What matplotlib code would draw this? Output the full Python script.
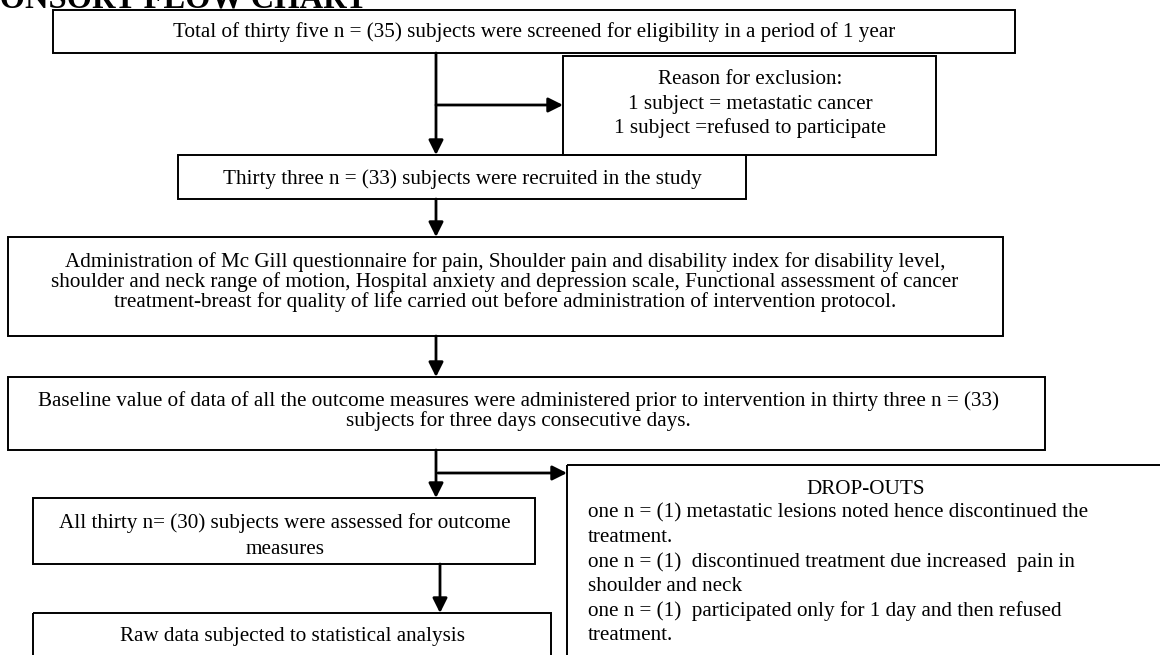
import matplotlib.pyplot as plt
from matplotlib.patches import Rectangle

# texts of the flow chart
title = "CONSORT FLOW CHART"
screened = "Total of thirty five n = (35) subjects were screened for eligibility in a period of 1 year"
exclusion = ["Reason for exclusion:",
             "1 subject = metastatic cancer",
             "1 subject =refused to participate"]
recruited = "Thirty three n = (33) subjects were recruited in the study"
admin = ["Administration of Mc Gill questionnaire for pain, Shoulder pain and disability index for disability level,",
         "shoulder and neck range of motion, Hospital anxiety and depression scale, Functional assessment of cancer",
         "treatment-breast for quality of life carried out before administration of intervention protocol."]
baseline = ["Baseline value of data of all the outcome measures were administered prior to intervention in thirty three n = (33)",
            "subjects for three days consecutive days."]
dropout_title = "DROP-OUTS"
dropouts = ["one n = (1) metastatic lesions noted hence discontinued the",
            "treatment.",
            "one n = (1)  discontinued treatment due increased  pain in",
            "shoulder and neck",
            "one n = (1)  participated only for 1 day and then refused",
            "treatment."]
assessed = ["All thirty n= (30) subjects were assessed for outcome",
            "measures"]
raw = "Raw data subjected to statistical analysis"

plt.rcParams['font.family'] = ['Liberation Serif', 'DejaVu Serif']
FS = 15.2

W, H = 1160, 655
fig = plt.figure(figsize=(W / 100, H / 100), dpi=100)
ax = fig.add_axes([0, 0, 1, 1])
ax.set_xlim(0, W)
ax.set_ylim(H, 0)
ax.axis('off')


def box(x0, y0, x1, y1):
    ax.add_patch(Rectangle((x0, y0), x1 - x0, y1 - y0, fill=False,
                           edgecolor='black', lw=1.4, clip_on=False))


def lines_centered(xc, ys, texts):
    for y, t in zip(ys, texts):
        ax.text(xc, y, t, ha='center', va='center', fontsize=FS)


def arrow(x0, y0, x1, y1, lw=2.0):
    ax.annotate("", xy=(x1, y1), xytext=(x0, y0),
                arrowprops=dict(arrowstyle='-|>', lw=lw, color='black',
                                mutation_scale=22, shrinkA=0, shrinkB=0))


# title, cut at the top/left like the original
ax.text(-24, 7, title, fontsize=23.5, fontweight='bold', ha='left', va='baseline')

# screened
box(53, 10, 1015, 53)
lines_centered(534, [32], [screened])
arrow(436, 53, 436, 155)
arrow(436, 105, 563, 105)

# exclusion
box(563, 56, 936, 155)
lines_centered(750, [80, 104, 128], exclusion)

# recruited
box(178, 155, 746, 199)
lines_centered(462, [179], [recruited])
arrow(436, 199, 436, 237)

# administration of questionnaires
box(8, 237, 1003, 336)
lines_centered(505, [262, 282, 302], admin)
arrow(436, 336, 436, 377)

# baseline
box(8, 377, 1045, 450)
lines_centered(518, [401, 421], baseline)
arrow(436, 450, 436, 498)
arrow(438, 473, 567, 473)

# drop-outs
box(567, 465, 1170, 670)
ax.text(866, 489, dropout_title, ha='center', va='center', fontsize=FS)
for i, t in enumerate(dropouts):
    ax.text(588, 513 + i * 24.4, t, ha='left', va='center', fontsize=FS)

# assessed
box(33, 498, 535, 564)
lines_centered(285, [523, 549], assessed)
arrow(440, 564, 440, 613)

# raw data
box(33, 613, 551, 670)
lines_centered(292, [636], [raw])

fig.savefig("out.png", dpi=100)
